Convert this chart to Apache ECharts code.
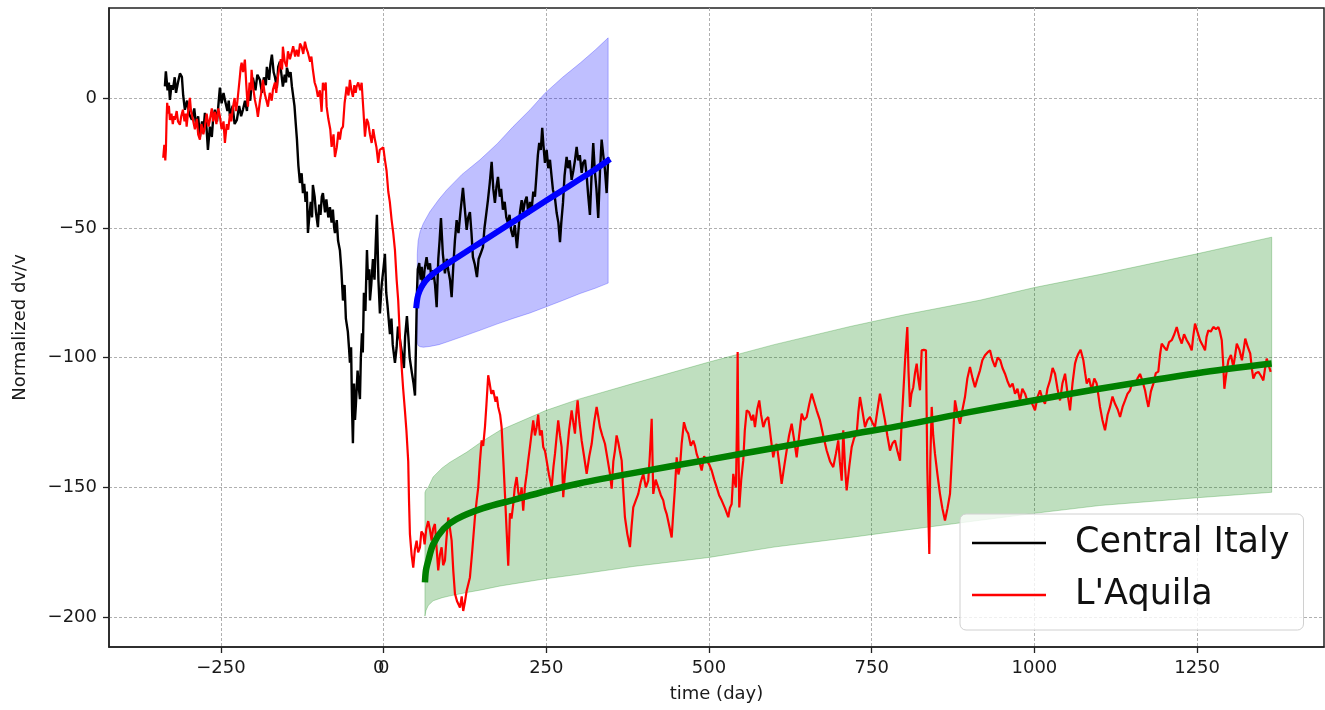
<!DOCTYPE html>
<html>
<head>
<meta charset="utf-8">
<script src="https://cdn.jsdelivr.net/npm/echarts@6/dist/echarts.min.js"></script>
<style>html,body{margin:0;padding:0;background:#fff}#c{width:1325px;height:710px}</style>
</head>
<body>
<div id="c"></div>
<script>
// ---- axis ticks ----
const xTicks = [-250, 0, 250, 500, 750, 1000, 1250];
const yTicks = [-200, -150, -100, -50, 0];
const xMin = -422, xMax = 1445, yMin = -211.5, yMax = 34.7;

// ---- Central Italy (black) [day, dv/v] ----
const centralItaly = [
[-336.1,4.5],[-335,9],[-334.6,10.3],[-332,3],[-330,6],[-328.4,-0.7],[-326,5],[-323.8,3.2],[-321,8],[-319,2],[-316.1,5.9],[-313,9.5],[-310,8.2],[-308,1],[-305.4,-4.5],[-302,-1],[-299,-6],[-294.6,-8.4],[-291,-4],[-288,-11],[-285,-7],[-282.3,-14.9],[-279,-9],[-277,-13],[-274.6,-5.7],[-272,-12],[-270,-20],[-267,-11],[-264,-15],[-262,-8],[-259.3,-4.5],[-256,-9],[-253,0],[-251.6,4],[-249,-2],[-246,2],[-243.9,-0.7],[-240,-5],[-238,-1],[-236.2,-7],[-232,-3],[-229,-10],[-225.5,-8.4],[-222,-3],[-219,-7],[-216.2,-4.5],[-213,-1],[-210,-5],[-208.5,2],[-205,-1],[-203,5],[-200.9,7.8],[-197,3],[-194,9],[-190.1,7],[-187,2],[-184,8],[-181,5],[-179.4,12],[-176,7],[-174,13],[-171.7,16.7],[-169,10],[-167.1,8.2],[-164,4],[-162,12],[-159.4,14],[-157,9],[-154.8,4.4],[-152,9],[-150,6],[-148.6,11.7],[-145,8],[-143,10],[-140.9,4.4],[-137,-3],[-135,-10],[-133.2,-16],
[-131,-26],[-128.6,-32.7],[-126,-29],[-124,-36.6],[-122,-33],[-120,-40],[-118,-36],[-116.3,-52],[-114,-45],[-112,-40],[-110,-46],[-108.7,-33.5],[-106,-38],[-104,-44],[-101,-49.7],[-99,-41],[-97,-45],[-95,-38],[-93.3,-36.6],[-90,-44],[-88,-39],[-85,-46],[-82.5,-42],[-80,-48],[-78,-43],[-76,-50],[-74.8,-52],[-72,-47],[-70,-55],[-67.2,-58.6],[-65,-66],[-62.5,-78],[-60,-72],[-58,-85],[-55,-90],[-53,-97],[-51.8,-102],[-50,-96],[-48.5,-120],[-47.2,-133],[-45.5,-110],[-44,-124],[-42.6,-118],[-40,-105],[-38,-112],[-36.4,-116],[-35,-100],[-33.3,-90.6],[-32,-98],[-30.3,-75],[-28,-82],[-25.6,-58.6],[-24,-70],[-22,-66],[-21,-78],[-19,-72],[-16.4,-62],[-14,-70],[-12,-55],[-10.3,-45],[-8,-70],[-5.7,-83],[-3,-72],[0,-65],[2,-60],[4,-75],[6,-80],[9.7,-91],[12,-85],[14,-95],[17.4,-102],[20,-96],[22,-88],[25,-93],[28,-98],[31.2,-104],[33,-92],[35.8,-84],[38,-92],[40,-100],[43.5,-106],[46,-110],[48.2,-114.6],
[51.2,-75],[52.5,-66],[54.7,-63.6],[57,-70],[58.5,-65],[60.4,-72.9],[63,-66],[66,-61.3],[68.5,-66],[71.2,-63.7],[73.5,-70],[76.2,-66.3],[79,-72],[81.5,-80.6],[84,-62],[86,-55],[88.1,-46.2],[91,-60],[94.2,-67.5],[97,-62],[99.3,-66.3],[102,-70],[104.5,-76.7],[107,-65],[109.5,-55],[112.2,-47],[115,-52],[118,-44],[121.9,-34.6],[124.5,-42],[127.6,-50.8],[130,-46],[132.6,-43.9],[135,-52],[137.2,-61.3],[140,-64],[143.4,-69],[146,-62],[149,-60],[152.6,-57.4],[155,-50],[157.5,-45],[160.3,-39.3],[163,-33],[166,-24.6],[168.5,-35],[171,-40.4],[173.5,-34],[175.7,-30.4],[178.5,-38],[180.5,-35],[183.3,-43],[186,-40],[188.5,-46],[191,-48.1],[193.5,-45],[196,-51],[198.7,-53.5],[201.5,-49],[204.9,-57.8],[207.5,-50],[209.5,-44],[212.1,-39.3],[214.5,-44],[217,-40],[219.8,-38],[222.5,-45],[225,-40],[227.4,-43],[230,-36],[232.5,-38],[235.1,-28.8],[237,-22],[239.1,-17.3],[241.5,-20],[243.7,-11.5],[245.5,-18],[247.9,-25],[250.5,-20],[253,-27],[255.6,-23.8],[258,-30],[260.2,-35.4],[263,-38],[265.9,-44.3],[268.5,-48],[271,-55.5],[273,-48],[275.6,-40.4],[278,-30],[281.2,-22.7],[283.5,-27],[286,-24],[288.9,-31.5],[291.5,-28],[294,-24],[296.6,-18.8],[299,-24],[301.5,-22],[304.3,-28.8],[306.5,-25],[309.4,-23.8],[312,-30],[314.5,-38],[317,-45],[319.5,-30],[322.1,-17.3],[324.5,-28],[327,-35],[329.8,-46.2],[332.5,-28],[335,-16],[337.5,-22],[340.1,-27.7],[342.7,-36.6],[345.2,-22.7]
];

// ---- L'Aquila (red) [day, dv/v] ----
const laquila = [
[-338.7,-23],[-337,-18],[-335.5,-24],[-334.6,-20],[-333.5,-8],[-332.6,-1.8],[-331,-6],[-330,-3],[-328.4,-8.4],[-326,-6],[-324,-10],[-322,-7],[-320.7,-8.4],[-318,-5],[-316,-9],[-313,-10.3],[-311,-7],[-308.4,-4.5],[-306,-9],[-304,-6],[-302.7,-11],[-300,-4],[-297.7,0.1],[-296,-5],[-293,-8.4],[-290,-12],[-287,-8],[-285,-14],[-282.3,-16],[-280,-10],[-277,-14],[-274.6,-11],[-272,-6],[-269,-11],[-267,-8.4],[-264,-4],[-262,-9],[-259.3,-5.3],[-257,-10],[-254,-4],[-251.6,-7.1],[-249,-12],[-246,-9],[-243.9,-17.3],[-241,-10],[-238.8,-12.2],[-236,-6],[-234,-9],[-231.6,-3.7],[-229,0],[-227,-5],[-225,-2],[-223.5,-1.3],[-221,8],[-219.5,12],[-218.2,13.6],[-216,10],[-213.2,14.8],[-211,5],[-209.5,-1],[-208.5,-3.3],[-206,6],[-204,3],[-202.9,10.9],[-200.5,4],[-197.8,-0.7],[-195,-4],[-193.2,-7.2],[-190,-1],[-188,2],[-185.5,7],[-183,2],[-180,-1],[-177.8,-3.3],[-175,2],[-172,-1],[-170.1,3.2],[-167,6],[-165,2],[-162.4,8.2],[-160,12],[-158,15],[-156,11],[-154.8,19.8],[-152,14],[-149.1,12],[-147,18],[-144,15],[-141.4,17.5],[-139,20],[-136,16],[-133.7,18.6],[-131,16],[-128.5,21],[-126,19.8],[-123.5,17],[-120.9,21.7],[-118.5,19],[-116.3,17.5],[-113,14],[-111,16],[-108.7,10.9],[-106,6],[-103.5,4],[-101,0.5],[-98,3],[-95.3,-5.3],[-93.3,5.9],[-91,3],[-89,6],[-87.6,-3.3],[-85,-8],[-82,-12],[-79.9,-18.8],[-77,-14],[-74.8,-22.7],[-72,-19],[-69.5,-13],[-67.2,-16],[-65,-12],[-62.5,-11],[-60,-2],[-58,2],[-56.9,4.4],[-54,1],[-51.8,7],[-49.5,3],[-47.2,0.5],[-45,5],[-43,2],[-41.5,4.4],[-39,6],[-36,3],[-33.8,5.9],[-31,-5],[-28.7,-14.9],[-26,-8],[-23.7,-9.5],[-21,-14],[-18.4,-17.3],[-16,-12],[-13.4,-16],[-11,-19],[-8.3,-25],[-6,-20],[-3.1,-20.7],[-0.5,-19],[2,-23.8],[4.5,-28],[7.1,-36],[9.5,-40],[12.3,-47],
[14.8,-52],[17.4,-58.6],[20,-70],[22.4,-78],[25,-92],[27.7,-103.6],[30,-112],[32.7,-120.3],[35,-128],[37.8,-140],[39,-155],[40.4,-168],[43,-176],[45.5,-180.9],[48,-174],[50.7,-170.5],[53,-175],[55.8,-173.1],[58,-167],[60.9,-168],[63,-172],[65.5,-166],[68.5,-163],[71,-166],[73.8,-170.5],[76,-166],[78.8,-164.1],[81,-172],[83.9,-182],[86.5,-176],[89.1,-173.1],[91.5,-180],[94.2,-178.2],[96.5,-170],[99.3,-161.6],[102,-166],[104.5,-170.5],[107,-182],[109.6,-191],[113,-194],[117.3,-196.3],[120,-192],[122.3,-197.6],[125,-194],[127.6,-189.8],[130,-190],[132.6,-184.7],[136,-175],[140.3,-161.5],[143,-155],[145.4,-150],[148,-140],[150.6,-131.9],[153,-134],[155.7,-126.8],[158,-118],[160.7,-106.8],[163,-110],[165.5,-114],[168.4,-112.6],[172,-117],[174,-115],[176.1,-119],[179,-122],[181.3,-126.8],[184,-140],[186.4,-152.5],[189,-166.7],[191.5,-180.2],[194.1,-160],[196.5,-162],[199.2,-156.4],[201.5,-150],[204.4,-146],[207,-152],[209.5,-155],[212,-150],[214.5,-159],[217,-150],[219.8,-144.8],[222,-140],[224.8,-134.5],[227,-130],[229.9,-124.2],[232.5,-130],[235.1,-126.8],[237.5,-122],[240.2,-130],[243,-128],[245.3,-134.5],[248,-136],[250.5,-139.7],[254,-145],[258.2,-150],[261,-142],[263.3,-137.1],[266,-130],[268.3,-124.2],[271,-130],[273.5,-134.5],[276,-153.8],[278.5,-145],[281.2,-138.4],[285,-128],[288.9,-120.3],[291.5,-125],[294,-129.3],[296,-122],[298.1,-116.5],[301,-125],[304.3,-132],[308,-138],[312,-144.8],[316,-138],[319.7,-133.2],[323.5,-125],[327.3,-119],[330,-123],[332.4,-126.8],[336,-130],[340.1,-133.2],[344,-139],[347.8,-144.8],[350.4,-150.5],[353,-140],[355.5,-135.8],[358,-130],[360.5,-132.6],[363,-136],[365.8,-139.7],[368,-150],[370.8,-161.5],[374.5,-168],[378.5,-173],[381,-165],[383.6,-157.7],[387.5,-155],[391.3,-152.5],[395,-148],[399,-144.8],[403,-150],[406.6,-147.4],[409,-138],[411.9,-123.6],[414.3,-152.5],[418,-147],[422,-150],[426,-153],[429.7,-155],[432,-158],[434.9,-160.2],[439,-165],[442.6,-169.3],[445,-160],[447.7,-150],[450.3,-138.4],[453,-145],[455.4,-142.2],[458,-133],[461.5,-124.9],[465,-128],[468.1,-129.3],[472,-134],[475.8,-132],[478.5,-134],[481,-137.1],[485,-140],[488.7,-143.5],[492.5,-138],[496.4,-139.7],[500,-141],[504.1,-143.5],[508,-147],[511.8,-150],[515.5,-153],[519.4,-155],[524.5,-158],[529.6,-161.5],[532,-158],[534.8,-156.4],[537.3,-144.8],[539.5,-148],[541.4,-150],[543,-125],[544,-97.8],[545,-130],[546.5,-157.7],[549.5,-147],[552.6,-139.7],[555,-128],[557.9,-120.3],[561.5,-121],[565.5,-124.2],[568,-122],[570.6,-126.8],[574,-120],[577.2,-116.5],[580,-122],[583.4,-126.8],[587,-124],[591,-122.9],[595,-131],[598.7,-138.4],[601.5,-135],[604,-133.2],[608,-141],[611.6,-148.6],[615.5,-142],[619.3,-135.8],[623,-130],[627,-125.5],[631,-132],[634.7,-138.4],[638.5,-130],[642.4,-121.6],[646,-124],[650.1,-122.9],[654,-118],[657.8,-113.9],[661.5,-117],[665.4,-120.3],[668,-121],[670.5,-124.2],[675.5,-130],[680.8,-135.8],[686,-140],[690.9,-142.2],[695,-137],[698.6,-131.9],[701,-140],[703.9,-147.4],[706.3,-128],[709,-142],[711.5,-151.2],[715.5,-142],[719.2,-134.5],[723,-131],[726.9,-129.3],[729.5,-121],[732,-115.2],[736,-121],[739.7,-126.8],[743.5,-124],[747.4,-122.9],[751,-125],[755,-126.8],[759,-120],[762.7,-113.9],[766.5,-119],[770.4,-124.2],[774,-130],[778.1,-135.8],[782,-133],[785.8,-131.9],[789.5,-136],[793.5,-139.7],[796,-125],[798.5,-113.9],[801.5,-100],[804.7,-88.2],[806.5,-105],[808.8,-119],[811,-114],[813.9,-111.4],[816.5,-106],[819.1,-102.3],[821.5,-108],[824.2,-112.6],[826.8,-97.2],[830,-97],[833.4,-97.2],[835.4,-142.2],[837,-160],[838.5,-175.7],[840,-140],[842.2,-119],[844.5,-130],[847.2,-137],[851,-145],[854.9,-152.5],[858.5,-158],[862.6,-162.8],[866.5,-158],[870.3,-152.5],[874,-135],[878,-116.5],[882,-122],[885.7,-125.5],[889.5,-120],[893.3,-115.2],[897,-108],[901,-103.6],[905,-108],[908.7,-111.4],[912.5,-108],[916.4,-104.9],[920,-101],[924.1,-99.1],[928,-98],[931.8,-97.2],[935.5,-101],[939.5,-103.6],[943.5,-100],[947.5,-101],[951,-104],[954.8,-106.2],[958.5,-109],[962.5,-111.4],[966.5,-110],[970.2,-113.9],[974,-112],[977.9,-116.5],[981.5,-112],[985.6,-113.9],[989.5,-117],[993.2,-116.5],[997,-118],[1000.9,-120.3],[1005,-115],[1008.6,-112.6],[1012.5,-116],[1016.3,-117.8],[1020,-112],[1024,-108.8],[1028,-104],[1031.7,-106.2],[1035.5,-112],[1039.4,-116.5],[1043,-110],[1047.1,-106.2],[1051,-114],[1054.7,-120.3],[1058.5,-110],[1062.4,-102.3],[1065,-100],[1067.5,-98.5],[1071,-97],[1075.2,-101],[1078,-106],[1080.4,-110],[1084,-108],[1088.1,-112.6],[1092,-108],[1095.7,-110],[1098,-114],[1100.8,-119],[1104.5,-124],[1108.5,-128],[1112.5,-122],[1116.2,-119],[1120,-115],[1123.9,-117.8],[1128,-120],[1131.6,-122.9],[1135.5,-119],[1139.3,-116.5],[1143,-114],[1147,-112.6],[1151,-109],[1154.7,-110],[1158.5,-108],[1162.3,-106.3],[1166,-109],[1170,-112.6],[1172.5,-116],[1175.1,-119],[1179,-113],[1182.8,-110],[1186.5,-106],[1190.4,-105.4],[1193,-99],[1195.6,-94.6],[1199.5,-96],[1203.3,-97.2],[1207,-94],[1211,-93.3],[1215,-91],[1218.7,-88.2],[1222.5,-92],[1226.4,-94.6],[1230,-91],[1234.1,-93.3],[1238,-95],[1241.7,-97.2],[1244,-92],[1246.8,-86.9],[1250.5,-90],[1254.5,-93.3],[1258,-95],[1262.2,-97.2],[1264.5,-92],[1267.3,-89.5],[1271,-90],[1275,-88.2],[1279,-89],[1282.7,-88.2],[1285,-90],[1287.9,-93.3],[1290,-102],[1291.9,-112],[1295,-106],[1298.1,-101],[1302,-99],[1305.7,-103.6],[1308.5,-99],[1311,-94.6],[1315,-97],[1318.9,-101],[1321.5,-97],[1324,-92.7],[1328,-96],[1331.7,-98.5],[1334,-104],[1336.4,-108.1],[1340,-106],[1344.2,-105.5],[1348,-107],[1351.8,-108.8],[1354.5,-104],[1357,-100.4],[1360,-103],[1363.1,-105.5]
];

// ---- blue fit and band ----
const blueFitX = [50, 52, 55, 60, 70, 85, 100, 125, 150, 175, 200, 225, 250, 275, 300, 325, 348];
const blueFitY = [-81, -77, -74.5, -72, -69, -66, -63.5, -59.5, -55.5, -51.5, -47.5, -43.5, -39.5, -35.5, -31.5, -27.5, -23.5];
const blueBandX = [51.7, 53, 56, 61, 71, 85, 97, 120, 148, 175, 199, 225, 248, 275, 302, 325, 345];
const blueUpper = [-60, -55, -51.5, -48.3, -43.8, -39, -35.4, -29.5, -23.8, -17.5, -11, -4.5, 1.9, 8, 13.5, 18.5, 23.2];
const blueLower = [-94.5, -95.3, -95.8, -96, -95.7, -95, -94, -92, -89.5, -87, -84.9, -82.8, -80.6, -78, -75.3, -73.3, -71.3];

// ---- green fit and band ----
const greenFitX = [63.5, 65, 68.5, 76, 92, 112, 153, 200, 249, 300, 383, 500, 600, 717, 800, 900, 998, 1100, 1250, 1364.6];
const greenFitY = [-186.6, -182, -178.3, -172, -166, -162.2, -158, -154.8, -151.5, -148.5, -144.5, -139.3, -134.8, -129.6, -126, -121, -116.5, -112, -106, -102.3];
const greenBandX = [63.5, 65, 68.5, 76, 90, 102, 128, 150, 179, 249, 300, 383, 500, 600, 717, 800, 916, 1000, 1100, 1250, 1364.6];
const greenUpper = [-152, -151, -150, -146, -142.5, -140.3, -136.4, -132.5, -128, -120.4, -116, -110, -101.7, -95, -88, -83.5, -77.9, -73, -68, -60, -53.6];
const greenLower = [-199.6, -197.5, -195.5, -193.7, -192.5, -191.8, -190.5, -189.5, -188, -185.2, -183.5, -180.5, -177, -173, -169.3, -166.5, -162.7, -160, -157, -154, -151.9];

const FONT = 'DejaVu Sans';
const zip = (xs, ys) => xs.map((x, i) => [x, ys[i]]);

function band(xs, up, lo, fill, stroke) {
  return {
    type: 'custom', silent: true, clip: true, z: 1,
    data: [[xs[0], up[0]]],
    renderItem: function (params, api) {
      const pts = [];
      for (let i = 0; i < xs.length; i++) pts.push(api.coord([xs[i], up[i]]));
      for (let i = xs.length - 1; i >= 0; i--) pts.push(api.coord([xs[i], lo[i]]));
      return { type: 'polygon', shape: { points: pts, smooth: 0 }, style: { fill: fill, stroke: stroke, lineWidth: 1 } };
    }
  };
}

const fmt = v => String(v).replace('-', '\u2212');

const chart = echarts.init(document.getElementById('c'), null, { renderer: 'canvas' });
const option = {
  animation: false,
  backgroundColor: '#fff',
  grid: { left: 109, right: 1, top: 8, bottom: 63, show: true, borderColor: '#222', borderWidth: 1.5, backgroundColor: 'transparent' },
  xAxis: {
    type: 'value', min: xMin, max: xMax,
    name: 'time (day)', nameLocation: 'middle', nameGap: 38,
    nameTextStyle: { fontFamily: FONT, fontSize: 18, color: '#1a1a1a' },
    axisLine: { show: true, onZero: false, lineStyle: { color: '#222', width: 1.5 } },
    axisTick: { show: true, length: 6, lineStyle: { color: '#222', width: 1.3 }, customValues: xTicks },
    axisLabel: { fontFamily: FONT, fontSize: 18, color: '#1a1a1a', margin: 12, customValues: xTicks, formatter: fmt },
    splitLine: { show: true, lineStyle: { color: '#b0b0b0', width: 1, type: [3, 2] } }
  },
  yAxis: {
    type: 'value', min: yMin, max: yMax,
    name: 'Normalized dv/v', nameLocation: 'middle', nameGap: 80,
    nameTextStyle: { fontFamily: FONT, fontSize: 18, color: '#1a1a1a' },
    axisLine: { show: true, onZero: false, lineStyle: { color: '#222', width: 1.5 } },
    axisTick: { show: true, length: 6, lineStyle: { color: '#222', width: 1.3 }, customValues: yTicks },
    axisLabel: { fontFamily: FONT, fontSize: 18, color: '#1a1a1a', margin: 12, customValues: yTicks, formatter: fmt },
    splitLine: { show: true, lineStyle: { color: '#b0b0b0', width: 1, type: [3, 2] } }
  },
  legend: {
    orient: 'vertical', left: 960, top: 514,
    data: [{ name: 'Central Italy', icon: 'rect' }, { name: "L'Aquila", icon: 'rect' }],
    itemWidth: 74, itemHeight: 2.5, itemGap: 12,
    padding: [9, 14, 15, 12],
    backgroundColor: 'rgba(255,255,255,0.8)', borderColor: '#d0d0d0', borderWidth: 1, borderRadius: 6,
    textStyle: { fontFamily: FONT, fontSize: 35, color: '#111', lineHeight: 40, padding: [0, 0, 0, 24] },
    selectedMode: false
  },
  series: [
    band(blueBandX, blueUpper, blueLower, 'rgba(0,0,255,0.25)', 'rgba(0,0,255,0.25)'),
    band(greenBandX, greenUpper, greenLower, 'rgba(0,128,0,0.25)', 'rgba(0,128,0,0.25)'),
    { name: 'Central Italy', type: 'line', data: centralItaly, color: '#000', showSymbol: false, symbol: 'none',
      lineStyle: { color: '#000', width: 2.4 }, z: 3, clip: true },
    { name: "L'Aquila", type: 'line', data: laquila, color: '#ff0000', showSymbol: false, symbol: 'none',
      lineStyle: { color: '#ff0000', width: 2.2 }, z: 4, clip: true },
    { name: 'blue fit', type: 'line', data: zip(blueFitX, blueFitY), color: '#0000ff', showSymbol: false, symbol: 'none',
      smooth: 0.3, lineStyle: { color: '#0000ff', width: 6, cap: 'butt' }, z: 5 },
    { name: 'green fit', type: 'line', data: zip(greenFitX, greenFitY), color: '#008000', showSymbol: false, symbol: 'none',
      smooth: 0.3, lineStyle: { color: '#008000', width: 6.5, cap: 'butt' }, z: 5 }
  ]
};
chart.setOption(option);
// the reference shows a doubled "0" tick label at x = 0
const px0 = chart.convertToPixel({ xAxisIndex: 0 }, 0);
const pyB = chart.convertToPixel({ yAxisIndex: 0 }, yMin);
chart.setOption({ graphic: [{ type: 'text', x: px0 - 5, y: pyB + 12, z: 10,
  style: { text: '0', fontFamily: FONT, fontSize: 18, fill: '#1a1a1a', align: 'center', verticalAlign: 'top' } }] });
</script>
</body>
</html>
